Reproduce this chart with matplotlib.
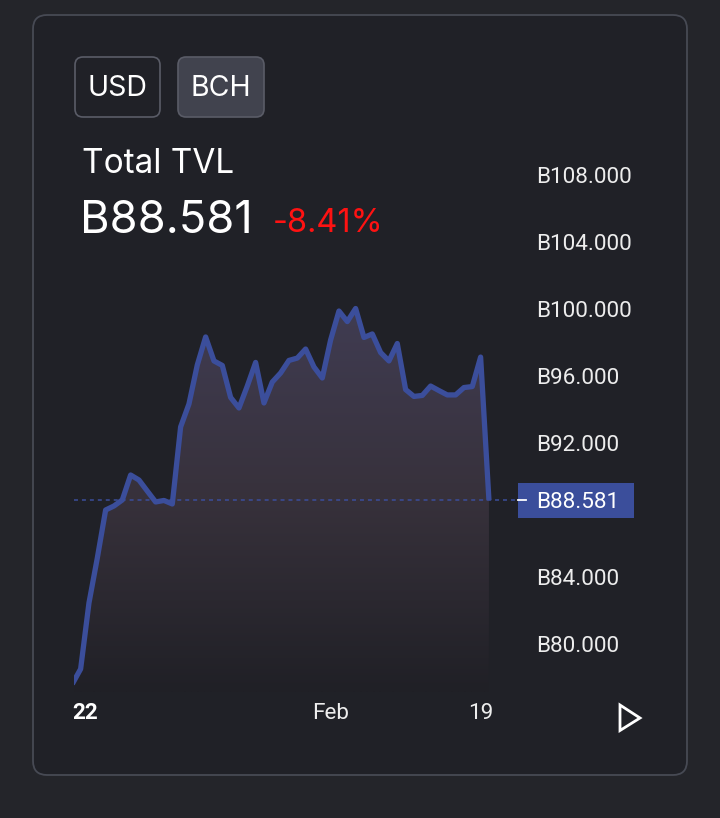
import matplotlib
matplotlib.use("Agg")
import matplotlib.pyplot as plt
import numpy as np
from matplotlib.patches import FancyBboxPatch, Rectangle, Polygon
from matplotlib.transforms import blended_transform_factory

# ---------------- data ----------------
values = [77.61, 78.51, 82.45, 85.13, 88.00, 88.24, 88.60, 90.09, 89.79, 89.13,
          88.48, 88.57, 88.36, 92.96, 94.33, 96.66, 98.33, 96.90, 96.63, 94.72,
          94.09, 95.40, 96.81, 94.39, 95.64, 96.18, 96.93, 97.07, 97.61, 96.54,
          95.88, 98.15, 99.88, 99.25, 100.03, 98.30, 98.51, 97.40, 96.90, 97.94,
          95.19, 94.78, 94.84, 95.40, 95.13, 94.87, 94.87, 95.31, 95.37, 97.13,
          88.581]
price_ticks = [80, 84, 92, 96, 100, 104, 108]
price_labels = ["B80.000", "B84.000", "B92.000", "B96.000", "B100.000", "B104.000", "B108.000"]
time_ticks = [31, 49]
time_labels = ["Feb", "19"]
year_label = "22"
current_label = "B88.581"
change_label = "-8.41%"
title = "Total TVL"
buttons = ["USD", "BCH"]

# ---------------- style ----------------
W, H = 720, 818
LINE = "#3b4e9b"
FIG_BG = "#24252a"
CARD_BG = "#202127"
TXT = "#ededed"

fig = plt.figure(figsize=(7.2, 8.18), dpi=100)
fig.patch.set_facecolor(FIG_BG)

bg = fig.add_axes([0, 0, 1, 1], zorder=0)
bg.set_xlim(0, W)
bg.set_ylim(H, 0)
bg.axis("off")

bg.add_patch(FancyBboxPatch((33, 15), 654, 760,
                            boxstyle="round,pad=0,rounding_size=14",
                            fc=CARD_BG, ec="#474a54", lw=1.3))

# buttons
bg.add_patch(FancyBboxPatch((75, 57), 85, 60, boxstyle="round,pad=0,rounding_size=8",
                            fc="none", ec="#5a5c67", lw=1.2))
bg.add_patch(FancyBboxPatch((178, 57), 86, 60, boxstyle="round,pad=0,rounding_size=8",
                            fc="#41434e", ec="#5a5c67", lw=1.2))
hdr = ["Inter", "DejaVu Sans"]
bg.text(117.5, 95.5, buttons[0], ha="center", va="baseline", fontsize=20.5,
        color="white", family=hdr)
bg.text(221, 95.5, buttons[1], ha="center", va="baseline", fontsize=20.5,
        color="white", family=hdr)

bg.text(82, 173, title, ha="left", va="baseline", fontsize=24, color="white", family=hdr)
bg.text(80.5, 233, current_label, ha="left", va="baseline", fontsize=32.5,
        color="white", family=hdr)
bg.text(273, 232, change_label, ha="left", va="baseline", fontsize=23.5,
        color="#ff1212", family=hdr)

# play triangle
bg.add_patch(Polygon([(620, 705), (620, 730.5), (640, 718)], closed=True,
                     fc="none", ec="white", lw=2, joinstyle="miter"))

# ---------------- chart ----------------
L, R, T, B = 74, 516, 140, 692
PX_PER_IDX = 8.333
IDX0_PX = 72.3
PX_PER_VAL = 16.75
ax = fig.add_axes([L / W, 1 - B / H, (R - L) / W, (B - T) / H], zorder=1)
ax.set_facecolor("none")
ytop = 108 + (175 - T) / PX_PER_VAL
ybot = 108 - (B - 175) / PX_PER_VAL
for s in ax.spines.values():
    s.set_visible(False)

idx = np.arange(len(values))
vals = np.array(values)

# gradient fill under the line (three colour stops, top -> bottom)
gmax = vals.max()
stop_v = [ybot, values[-1], gmax]
stop_c = np.array([[32, 32, 38], [55, 49, 59], [64, 60, 82]]) / 255
n = 300
vv = np.linspace(gmax, ybot, n)
img = np.ones((n, 1, 4))
for k in range(3):
    img[:, 0, k] = np.interp(vv, stop_v, stop_c[:, k])
im = ax.imshow(img, extent=[idx[0], idx[-1], ybot, gmax], origin="upper",
               aspect="auto", zorder=1, interpolation="bilinear")
poly = Polygon([(idx[0], ybot)] + list(zip(idx, vals)) + [(idx[-1], ybot)],
               closed=True, fc="none", ec="none", transform=ax.transData)
ax.add_patch(poly)
im.set_clip_path(poly)
ax.set_xlim((L - IDX0_PX) / PX_PER_IDX, (R - IDX0_PX) / PX_PER_IDX)
ax.set_ylim(ybot, ytop)

ax.plot(idx, vals, color=LINE, lw=3.8, solid_joinstyle="round",
        solid_capstyle="butt", zorder=3)

# dashed price line
ax.axhline(values[-1], color=LINE, lw=1.1, linestyle=(0, (2.6, 2.6)), zorder=2)

# price scale
ax.yaxis.tick_right()
ax.set_yticks(price_ticks)
ax.set_yticklabels(price_labels, family=["Roboto", "DejaVu Sans"], fontsize=16.2,
                   color=TXT)
ax.tick_params(axis="y", length=0, pad=14.2)

# time axis
ax.set_xticks([])
bx = blended_transform_factory(ax.transData, ax.transAxes)
yb = (B - 719) / (B - T)
for tpos, tl in zip(time_ticks, time_labels):
    ax.text(tpos, yb, tl, transform=bx, ha="center", va="baseline", fontsize=16.2,
            color=TXT, family=["Roboto", "DejaVu Sans"], clip_on=False)
ax.text(-2.2 / (R - L), yb, year_label, transform=ax.transAxes, ha="left", va="baseline",
        fontsize=16.2, color="white", fontweight="bold",
        family=["Roboto", "DejaVu Sans"], clip_on=False)

# current price label box
by = blended_transform_factory(ax.transAxes, ax.transData)
box_h = 35 / PX_PER_VAL
ax.add_patch(Rectangle(((518 - L) / (R - L), values[-1] - box_h / 2), 116 / (R - L), box_h,
                       transform=by, fc=LINE, ec="none", clip_on=False, zorder=4))
ax.plot([(518 - L) / (R - L), (526 - L) / (R - L)], [values[-1], values[-1]],
        transform=by, color="white", lw=1.3, clip_on=False, zorder=5)
ax.text((536 - L) / (R - L), values[-1], current_label, transform=by, ha="left",
        va="center_baseline", fontsize=16.2, color="white",
        family=["Roboto", "DejaVu Sans"], clip_on=False, zorder=5)

fig.savefig("out.png", dpi=100, facecolor=fig.get_facecolor())
